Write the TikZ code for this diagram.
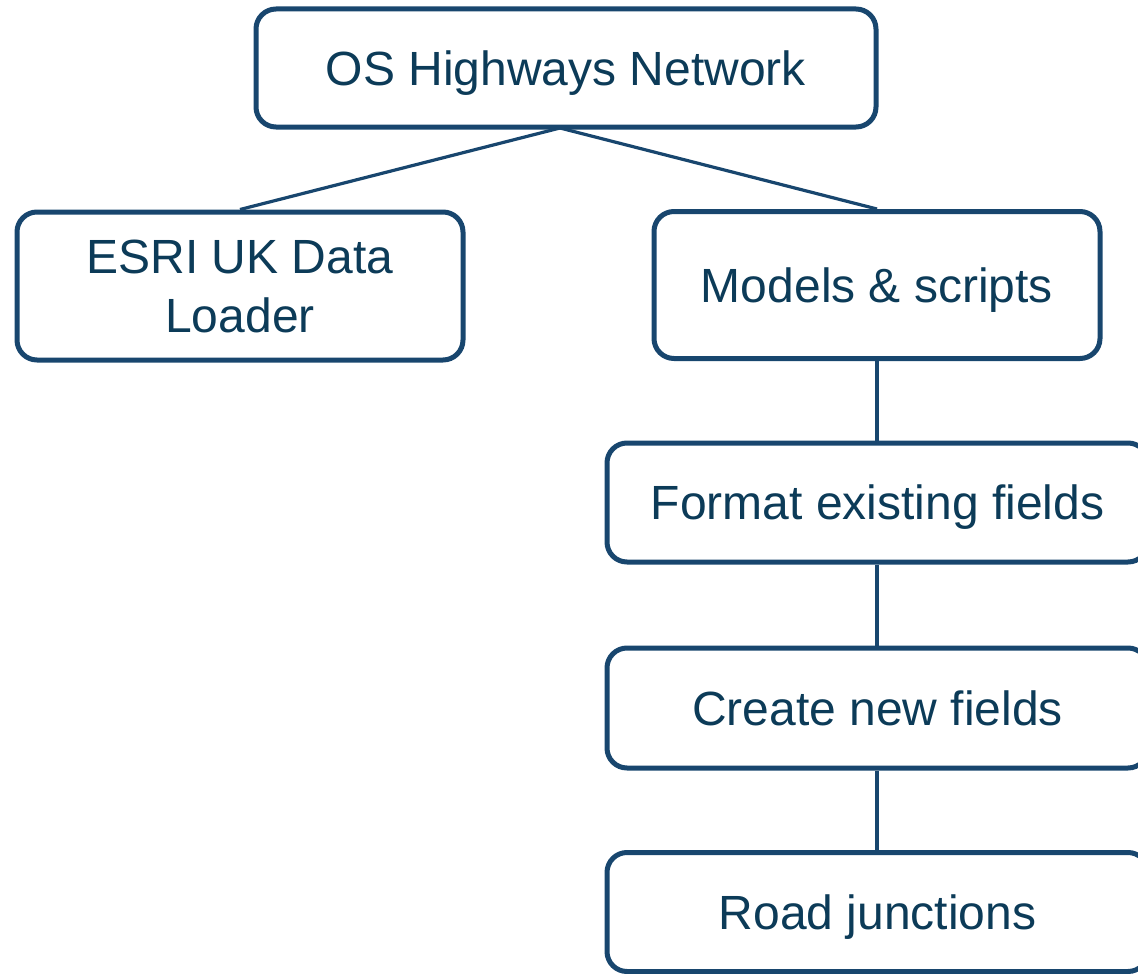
\documentclass[tikz,border=0pt]{standalone}
\usepackage{fontspec}
\setmainfont{Liberation Sans}
\definecolor{boxc}{HTML}{18466E}
\definecolor{txtc}{HTML}{0C3B58}
\begin{document}
\begin{tikzpicture}[x=1pt,y=-1pt,
  box/.style={draw=boxc, line width=5pt, rounded corners=20pt, fill=white,
    text=txtc, font=\fontsize{48}{59}\selectfont, align=center, inner sep=0pt,
    text height=34pt, text depth=0pt},
  conn/.style={draw=boxc, line width=3.2pt}]
\useasboundingbox (0,0) rectangle (1138,974);
\node[box, minimum width=620pt, minimum height=118pt] (os) at (566,68) {OS Highways Network};
\node[box, minimum width=446pt, minimum height=148pt, text height=93pt] (esri) at (240,286) {ESRI UK Data\\Loader};
\node[box, minimum width=446pt, minimum height=147pt] (mod) at (877,285) {Models \& scripts};
\node[box, minimum width=541pt, minimum height=119pt] (fmt) at (877.5,502.5) {Format existing fields};
\node[box, minimum width=541pt, minimum height=120pt] (cre) at (877.5,708) {Create new fields};
\node[box, minimum width=541pt, minimum height=119pt] (road) at (877.5,912) {Road junctions};
\coordinate (osb) at (560,128);
\draw[conn] (osb) -- (esri.north);
\draw[conn] (osb) -- (mod.north);
\draw[conn] (mod.south) -- (fmt.north -| mod.south);
\draw[conn] (fmt.south -| mod.south) -- (cre.north -| mod.south);
\draw[conn] (cre.south -| mod.south) -- (road.north -| mod.south);
\end{tikzpicture}
\end{document}
